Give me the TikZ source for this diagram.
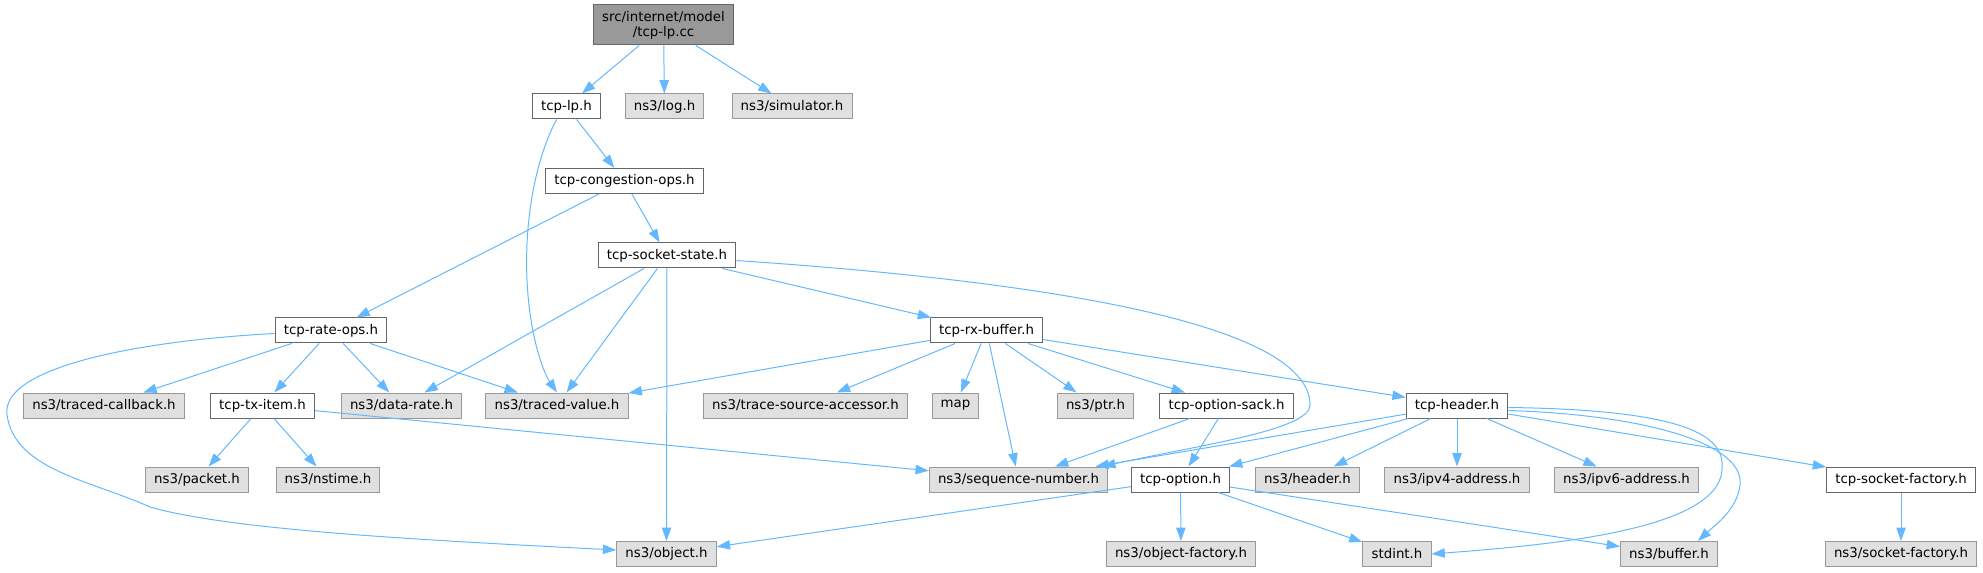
\documentclass[tikz,border=0pt]{standalone}
\usepackage{fontspec}
\setmainfont{DejaVu Sans}
\usetikzlibrary{arrows.meta,calc}

\definecolor{edgeblue}{HTML}{63B8FF}

\tikzset{
  file/.style={draw=black!60, fill=white, line width=0.75pt, minimum height=18.75pt,
    inner xsep=6.5pt, inner ysep=0pt, font=\fontsize{10}{11.5}\selectfont},
  sys/.style={file, draw=black!40, fill=black!12},
  root/.style={file, fill=black!40, minimum height=30pt, align=center},
  dep/.style={draw=edgeblue, line width=0.75pt, -{Triangle[length=10pt,width=7pt]}}
}

\begin{document}
\begin{tikzpicture}[x=0.75pt,y=-0.75pt]
        \useasboundingbox (0,0) rectangle (1983,573);

        % draw top rows
        \node[root] (cc) at (663.5,25) {src/internet/model\\/tcp-lp.cc};
        \node[file] (lp) at (566.5,106.5) {tcp-lp.h};
        \node[sys] (log) at (664.5,106.5) {ns3/log.h};
        \node[sys] (sim) at (792,106.5) {ns3/simulator.h};
        \node[file] (congops) at (624.5,181) {tcp-congestion-ops.h};
        \node[file] (state) at (667,255.5) {tcp-socket-state.h};
        \node[file] (rateops) at (331,330.5) {tcp-rate-ops.h};
        \node[file] (rxbuf) at (986.5,330.5) {tcp-rx-buffer.h};

        % draw middle row
        \node[sys] (tcb) at (104,405.5) {ns3/traced-callback.h};
        \node[file] (txitem) at (262.5,405.5) {tcp-tx-item.h};
        \node[sys] (drate) at (401.5,405.5) {ns3/data-rate.h};
        \node[sys] (tval) at (557,405.5) {ns3/traced-value.h};
        \node[sys] (tsa) at (805.5,405.5) {ns3/trace-source-accessor.h};
        \node[sys] (map) at (955.5,405.5) {map};
        \node[sys] (ptr) at (1095.5,405.5) {ns3/ptr.h};
        \node[file] (sack) at (1226.5,405.5) {tcp-option-sack.h};
        \node[file] (hdr) at (1457,405.5) {tcp-header.h};

        % draw lower rows
        \node[sys] (pkt) at (197,479.5) {ns3/packet.h};
        \node[sys] (nstime) at (328,479.5) {ns3/nstime.h};
        \node[sys] (seqnum) at (1018.5,479.5) {ns3/sequence-number.h};
        \node[file] (opt) at (1180.5,479.5) {tcp-option.h};
        \node[sys] (nshdr) at (1307.5,479.5) {ns3/header.h};
        \node[sys] (ipv4) at (1457,479.5) {ns3/ipv4-address.h};
        \node[sys] (ipv6) at (1626.5,479.5) {ns3/ipv6-address.h};
        \node[file] (tsf) at (1901,479.5) {tcp-socket-factory.h};
        \node[sys] (obj) at (666.5,554) {ns3/object.h};
        \node[sys] (objf) at (1181,554) {ns3/object-factory.h};
        \node[sys] (stdint) at (1397,554) {stdint.h};
        \node[sys] (buf) at (1669,554) {ns3/buffer.h};
        \node[sys] (sf) at (1901,554) {ns3/socket-factory.h};

        % draw straight includes
        \foreach \a/\b in {cc/lp, cc/log, cc/sim, lp/congops, congops/rateops, congops/state,
            state/drate, state/tval, state/obj, state/rxbuf,
            rateops/tcb, rateops/txitem, rateops/drate, rateops/tval,
            txitem/pkt, txitem/nstime, txitem/seqnum,
            rxbuf/tval, rxbuf/tsa, rxbuf/map, rxbuf/seqnum, rxbuf/ptr, rxbuf/sack, rxbuf/hdr,
            sack/seqnum, sack/opt,
            hdr/seqnum, hdr/opt, hdr/nshdr, hdr/ipv4, hdr/ipv6, hdr/tsf,
            opt/obj, opt/objf, opt/stdint, opt/buf, tsf/sf}
          \draw[dep] (\a) -- (\b);

        % draw curved includes
        \draw[dep] ($(lp.south)+(-10,0)$) .. controls (530,170) and (520,250) .. (531,320)
          .. controls (536,352) and (545,375) .. (tval.north);
        \draw[dep] ($(rateops.west)+(0,3)$) .. controls (150,340) and (0,365) .. (7,415)
          .. controls (15,470) and (90,480) .. (150,507)
          .. controls (230,530) and (420,540) .. ($(obj.west)+(0,-4)$);
        \draw[dep] ($(state.east)+(0,5)$) .. controls (950,275) and (1310,310) .. (1310,405)
          .. controls (1310,430) and (1200,445) .. ($(seqnum.north east)+(-6,0)$);
        \draw[dep] ($(hdr.east)+(0,2)$) .. controls (1700,410) and (1725,440) .. (1722,470)
          .. controls (1718,530) and (1550,545) .. (stdint.east);
        \draw[dep] ($(hdr.east)+(0,5)$) .. controls (1650,415) and (1745,445) .. (1740,485)
          .. controls (1737,510) and (1715,525) .. ($(buf.north east)+(-20,0)$);
\end{tikzpicture}
\end{document}
